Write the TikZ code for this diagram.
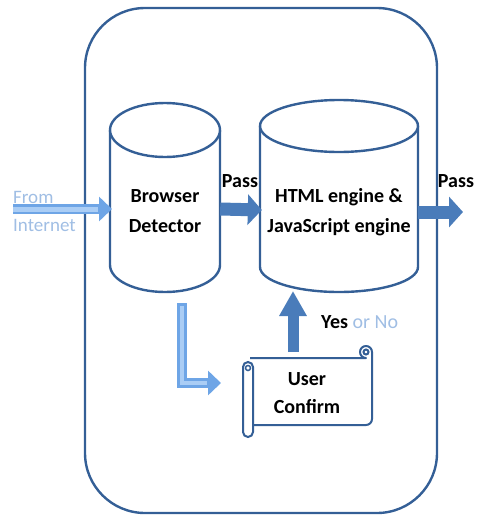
\documentclass[tikz,border=0pt]{standalone}
\usepackage{fontspec}
\setmainfont{Carlito}
\usetikzlibrary{arrows.meta,calc}
\definecolor{edge}{RGB}{52,95,150}
\definecolor{arrowblue}{RGB}{74,124,186}
\definecolor{lightarrow}{RGB}{110,165,230}
\definecolor{lightfill}{RGB}{170,205,245}
\definecolor{lighttext}{RGB}{160,190,228}
\tikzset{
  shapeline/.style={draw=edge, line width=2.4pt},
  label20/.style={font=\fontsize{20}{30}\selectfont\bfseries, align=center, inner sep=0pt},
  lbl/.style={font=\fontsize{20}{24}\selectfont\bfseries, inner sep=0pt},
  bigarrow/.style={draw=arrowblue, line width=13pt, -{Triangle[length=14pt,width=30pt]}},
  uparrow/.style={draw=arrowblue, line width=11pt, -{Triangle[length=25pt,width=26pt]}},
  lightarrowsty/.style={draw=lightarrow, line width=10pt, -{Triangle[length=13pt,width=24pt]}},
}
\begin{document}
\begin{tikzpicture}[x=1pt,y=-1pt]
\useasboundingbox (0,0) rectangle (477,515);
% outer frame
\draw[shapeline, rounded corners=60pt] (85,8) rectangle (437,513);
% browser detector cylinder
\draw[shapeline, fill=white] (110,130) -- (110,265) arc[start angle=180, end angle=0, x radius=55, y radius=27] -- (220,130);
\draw[shapeline, fill=white] (165,130) ellipse [x radius=55, y radius=27];
\node[label20, minimum width=110pt, minimum height=162pt] (bd) at (165,211) {Browser\\Detector};
% html cylinder
\draw[shapeline, fill=white] (260,126) -- (260,267) arc[start angle=180, end angle=0, x radius=79, y radius=25] -- (418,126);
\draw[shapeline, fill=white] (339,126) ellipse [x radius=79, y radius=26];
\node[label20, minimum width=158pt, minimum height=162pt] (html) at (339,212) {HTML engine \&\\JavaScript engine};
% user confirm scroll
\draw[shapeline, line width=2pt, fill=white, line join=round] (250,358) -- (366,358) arc[start angle=90, end angle=360, radius=6] -- (372,419) arc[start angle=0, end angle=90, radius=6] -- (253,425);
\draw[shapeline, line width=2pt] (366,352) circle[radius=2.5];
\draw[shapeline, line width=2pt, fill=white, rounded corners=5pt] (243,362) rectangle (253,437);
\draw[shapeline, line width=1.5pt] (248,368) circle[radius=2.5];
\node[label20, align=center, minimum width=119pt, minimum height=67pt, font=\fontsize{20}{28}\selectfont\bfseries] (uc) at (307,393) {User\\Confirm};
% arrows
\coordinate (outEnd) at (463,212);
\coordinate (upStart) at (293,352);
\coordinate (upEnd) at (293,291);
\coordinate (src) at (13,209);
\coordinate (srcEnd) at (112,209);
\coordinate (lStart) at (182,303);
\coordinate (lEnd) at (221,383);
\draw[bigarrow] ($(bd.east)+(0,-2)$) -- ($(html.west)+(2,-2)$);
\draw[bigarrow] (html.east) -- (outEnd);
\draw[uparrow] (upStart) -- (upEnd);
\draw[lightarrowsty] (src) -- (srcEnd);
\draw[draw=lightfill, line width=5pt] (src) -- ($(srcEnd)+(-14,0)$);
\draw[lightarrowsty] (lStart) -- (lStart |- lEnd) -- (lEnd);
\draw[draw=lightfill, line width=4pt] ($(lStart)+(0,3)$) -- (lStart |- lEnd) -- ($(lEnd)+(-14,0)$);
% labels
\node[lbl] (pass1) at (240,181) {Pass};
\node[lbl] (pass2) at (456,181) {Pass};
\node[lbl, anchor=west] (yesno) at (321,322) {Yes \textcolor{lighttext}{\mdseries or No}};
\node[font=\fontsize{19}{28}\selectfont, text=lighttext, align=left, anchor=west, inner sep=0pt] (from) at (13,211) {From\\Internet};
\end{tikzpicture}
\end{document}
